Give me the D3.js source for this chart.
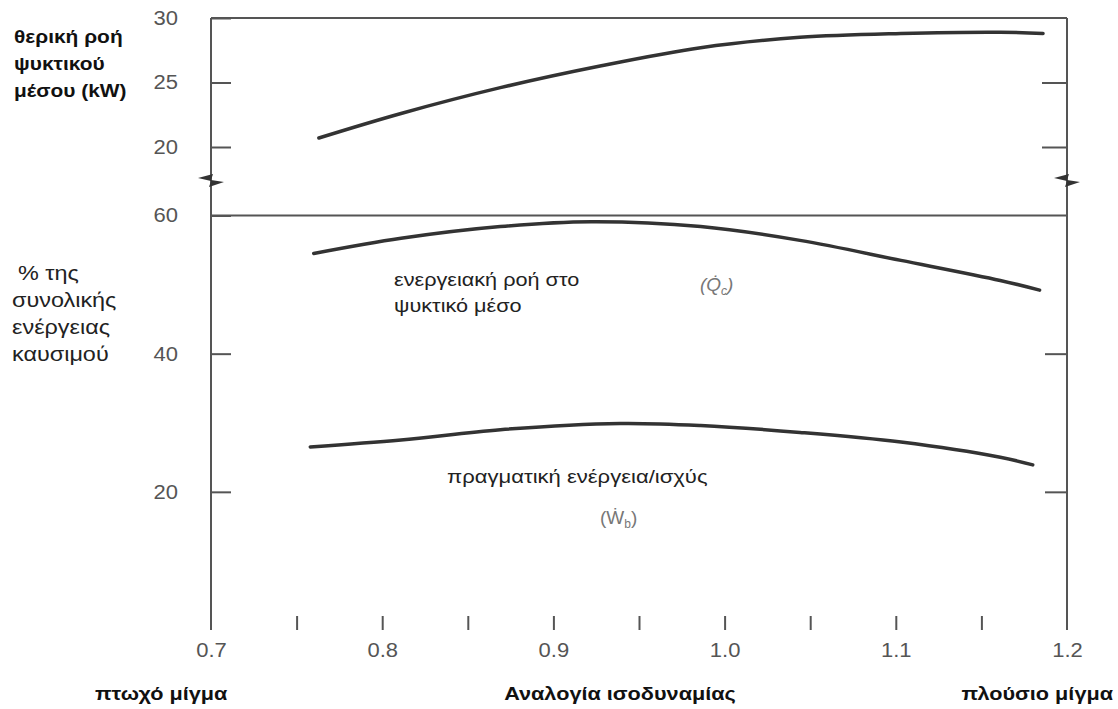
<!DOCTYPE html>
<html>
<head>
<meta charset="utf-8">
<script src="https://cdn.jsdelivr.net/npm/d3@7"></script>
<style>
  html, body { margin: 0; padding: 0; background: #fff; }
  svg { display: block; }
  text { font-family: "Liberation Sans", Arial, Helvetica, sans-serif; }
</style>
</head>
<body>
<svg id="chart" width="1118" height="709"></svg>
<script>
// Equivalence ratio (x) shared by both panels
const xTicksMinor = [0.75, 0.8, 0.85, 0.9, 0.95, 1.0, 1.05, 1.1, 1.15];
const xTickLabels = [0.7, 0.8, 0.9, 1.0, 1.1, 1.2];

// Upper panel: coolant heat flow, kW
const coolantX  = [0.763, 0.811, 0.869, 0.928, 0.986, 1.044, 1.103, 1.161, 1.186];
const coolantKW = [20.7, 22.6, 24.6, 26.3, 27.7, 28.5, 28.8, 28.9, 28.8];
const topTicks = [30, 25, 20];

// Lower panel: share of total fuel energy, %
const qcX   = [0.760, 0.811, 0.869, 0.922, 0.986, 1.044, 1.103, 1.161, 1.184];
const qcPct = [54.5, 56.7, 58.4, 59.1, 58.4, 56.4, 53.5, 50.6, 49.2];
const wbX   = [0.758, 0.811, 0.869, 0.939, 0.986, 1.044, 1.103, 1.161, 1.180];
const wbPct = [26.5, 27.5, 29.0, 29.9, 29.6, 28.6, 27.2, 25.0, 23.9];
const bottomTicks = [60, 40, 20];

const svg = d3.select("#chart");
const frameColor = "#555";
const curveColor = "#333";

const x = d3.scaleLinear().domain([0.7, 1.2]).range([211, 1067]);
const yTop = d3.scaleLinear().domain([20, 30]).range([147, 18]);
const yBot = d3.scaleLinear().domain([0, 60]).range([630, 215.5]);

const left = x(0.7), right = x(1.2);
const topY = yTop(30), splitY = yBot(60), bottomY = yBot(0);

// Widen a text element horizontally by factor k (the typeface is set a little wide)
function widen(sel, k) {
  sel.each(function () {
    const w = this.getComputedTextLength();
    d3.select(this).attr("textLength", w * k).attr("lengthAdjust", "spacingAndGlyphs");
  });
  return sel;
}

// Frame lines
const frame = svg.append("g").attr("stroke", frameColor).attr("stroke-width", 2).attr("fill", "none");
frame.append("line").attr("x1", left).attr("x2", right).attr("y1", topY).attr("y2", topY);
frame.append("line").attr("x1", left).attr("x2", right).attr("y1", splitY).attr("y2", splitY);
frame.append("line").attr("x1", left).attr("x2", left).attr("y1", topY).attr("y2", bottomY);
frame.append("line").attr("x1", right).attr("x2", right).attr("y1", topY).attr("y2", bottomY);

function styleAxis(g) {
  g.select(".domain").remove();
  g.selectAll(".tick line").attr("stroke", frameColor).attr("stroke-width", 2);
  g.selectAll(".tick text").attr("fill", "#555").attr("font-size", 20)
    .attr("font-family", "Liberation Sans, Arial, sans-serif");
  widen(g.selectAll(".tick text"), 1.1);
}

// Left axes with inward ticks
svg.append("g").attr("transform", `translate(${left},0)`)
  .call(d3.axisLeft(yTop).tickValues(topTicks).tickSizeInner(-20).tickSizeOuter(0).tickPadding(33).tickFormat(d3.format("d")))
  .call(styleAxis);
svg.append("g").attr("transform", `translate(${left},0)`)
  .call(d3.axisLeft(yBot).tickValues(bottomTicks).tickSizeInner(-20).tickSizeOuter(0).tickPadding(33).tickFormat(d3.format("d")))
  .call(styleAxis);

// Right axes: ticks only
svg.append("g").attr("transform", `translate(${right},0)`)
  .call(d3.axisRight(yTop).tickValues([25, 20]).tickSizeInner(-25).tickSizeOuter(0).tickFormat(""))
  .call(styleAxis);
svg.append("g").attr("transform", `translate(${right},0)`)
  .call(d3.axisRight(yBot).tickValues([40, 20]).tickSizeInner(-22).tickSizeOuter(0).tickFormat(""))
  .call(styleAxis);

// Bottom axis: minor ticks pointing up, labels every 0.1
svg.append("g").attr("transform", `translate(0,${bottomY})`)
  .call(d3.axisBottom(x).tickValues(xTicksMinor).tickSizeInner(-14).tickSizeOuter(0).tickFormat(""))
  .call(styleAxis);
svg.append("g").attr("transform", `translate(0,${bottomY})`)
  .call(d3.axisBottom(x).tickValues(xTickLabels).tickSize(0).tickPadding(13).tickFormat(d3.format(".1f")))
  .call(styleAxis);

// Axis break marks
const breakY = 180;
[left, right].forEach(cx => {
  svg.append("path")
    .attr("transform", `translate(${cx},${breakY})`)
    .attr("d", "M-13,-2 L2,-6 L0,0 L13,2 L-2,7 L0,1 Z")
    .attr("fill", "#333");
});

// Curves
const line = (ys) => d3.line().x(d => x(d[0])).y(d => ys(d[1])).curve(d3.curveCatmullRom.alpha(0.5));
function drawCurve(xs, vs, ys) {
  svg.append("path")
    .datum(d3.zip(xs, vs))
    .attr("d", line(ys))
    .attr("fill", "none")
    .attr("stroke", curveColor)
    .attr("stroke-width", 3.5)
    .attr("stroke-linecap", "round");
}
drawCurve(coolantX, coolantKW, yTop);
drawCurve(qcX, qcPct, yBot);
drawCurve(wbX, wbPct, yBot);

// Y-axis titles
["θερική ροή", "ψυκτικού", "μέσου (kW)"].forEach((t, i) =>
  svg.append("text").attr("x", 14).attr("y", 43 + i * 27)
    .attr("font-weight", "bold").attr("font-size", 19).attr("fill", "#111").text(t)
    .call(widen, 1.1));

[["% της", 18], ["συνολικής", 12], ["ενέργειας", 12], ["καυσιμού", 12]].forEach(([t, dx], i) =>
  svg.append("text").attr("x", dx).attr("y", 280 + i * 27)
    .attr("font-size", 20).attr("fill", "#222").text(t)
    .call(widen, 1.17));

// Curve annotations
[["ενεργειακή ροή στο", 286], ["ψυκτικό μέσο", 312]].forEach(([t, y]) =>
  svg.append("text").attr("x", 394).attr("y", y).attr("font-size", 19).attr("fill", "#222").text(t)
    .call(widen, 1.14));

const qcSym = svg.append("text").attr("x", 700).attr("y", 291).attr("font-size", 19)
  .attr("fill", "#777").attr("font-style", "italic");
qcSym.append("tspan").text("(Q\u0307");
qcSym.append("tspan").attr("font-size", 12).attr("dy", 4).text("c");
qcSym.append("tspan").attr("dy", -4).text(")");

svg.append("text").attr("x", 447).attr("y", 483).attr("font-size", 19).attr("fill", "#222")
  .text("πραγματική ενέργεια/ισχύς").call(widen, 1.16);

const wbSym = svg.append("text").attr("x", 600).attr("y", 524).attr("font-size", 19).attr("fill", "#777");
wbSym.append("tspan").text("(\u1E86");
wbSym.append("tspan").attr("font-size", 12).attr("dy", 4).text("b");
wbSym.append("tspan").attr("dy", -4).text(")");

// X-axis captions
function caption(t, xPos, anchor) {
  svg.append("text").attr("x", xPos).attr("y", 700).attr("text-anchor", anchor)
    .attr("font-weight", "bold").attr("font-size", 19).attr("fill", "#111").text(t)
    .call(widen, 1.14);
}
caption("πτωχό μίγμα", 95, "start");
caption("Αναλογία ισοδυναμίας", 620, "middle");
caption("πλούσιο μίγμα", 1113, "end");
</script>
</body>
</html>
